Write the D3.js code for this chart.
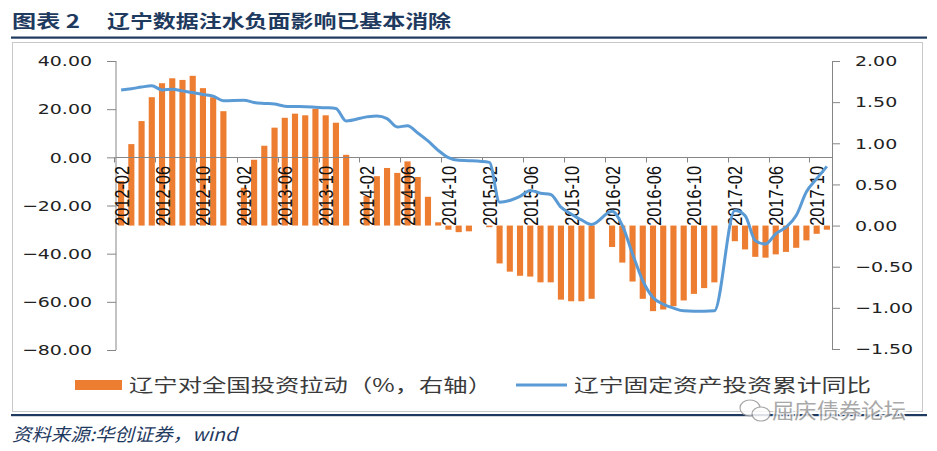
<!DOCTYPE html>
<html><head><meta charset="utf-8">
<script src="https://cdn.jsdelivr.net/npm/d3@7"></script>
<style>
html,body{margin:0;padding:0;background:#fff;}
svg{display:block;}
</style></head>
<body>
<svg id="chart" width="937" height="451"></svg>
<script>
// ---------------- data ----------------
const months = [
 "2012-02","2012-03","2012-04","2012-05","2012-06","2012-07","2012-08","2012-09","2012-10","2012-11","2012-12",
 "2013-01","2013-02","2013-03","2013-04","2013-05","2013-06","2013-07","2013-08","2013-09","2013-10","2013-11","2013-12",
 "2014-01","2014-02","2014-03","2014-04","2014-05","2014-06","2014-07","2014-08","2014-09","2014-10","2014-11","2014-12",
 "2015-01","2015-02","2015-03","2015-04","2015-05","2015-06","2015-07","2015-08","2015-09","2015-10","2015-11","2015-12",
 "2016-01","2016-02","2016-03","2016-04","2016-05","2016-06","2016-07","2016-08","2016-09","2016-10","2016-11","2016-12",
 "2017-01","2017-02","2017-03","2017-04","2017-05","2017-06","2017-07","2017-08","2017-09","2017-10","2017-11"
];
// 辽宁对全国投资拉动（%，右轴）
const pullValues = [
 0.54,0.99,1.27,1.56,1.73,1.79,1.77,1.82,1.67,1.56,1.39,
 null,0.46,0.80,0.97,1.19,1.31,1.36,1.34,1.42,1.34,1.25,0.86,
 null,0.36,0.60,0.70,0.64,0.78,0.59,0.35,0.04,-0.05,-0.08,-0.07,
 null,-0.02,-0.46,-0.56,-0.61,-0.62,-0.69,-0.69,-0.90,-0.92,-0.92,-0.89,
 null,-0.26,-0.45,-0.68,-0.89,-1.04,-1.02,-0.98,-0.91,-0.83,-0.76,-0.69,
 null,-0.19,-0.29,-0.38,-0.39,-0.35,-0.32,-0.27,-0.18,-0.10,-0.05
];
// 辽宁固定资产投资累计同比
const growthValues = [
 28.0,28.5,29.2,29.7,28.0,28.3,27.6,26.9,26.1,25.4,23.5,
 null,23.75,22.8,22.4,22.1,21.25,21.1,21.0,20.8,20.6,20.3,15.1,
 null,16.8,17.2,16.1,12.6,13.1,10.1,6.8,2.9,-0.1,-1.25,-1.4,
 null,-2.1,-18.6,-17.9,-16.25,-13.75,-14.9,-15.4,-20.7,-23.5,-26.0,-27.9,
 null,-22.4,-28.3,-40.1,-51.25,-58.2,-61.0,-62.6,-63.75,-63.9,-63.9,-63.75,
 null,-22.1,-24.2,-34.6,-36.0,-31.8,-29.0,-24.2,-14.3,-8.9,-3.75
];
const leftTicks = [-80,-60,-40,-20,0,20,40];
const rightTicks = [-1.5,-1.0,-0.5,0,0.5,1.0,1.5,2.0];
const xTickLabels = ["2012-02","2012-06","2012-10","2013-02","2013-06","2013-10","2014-02","2014-06","2014-10",
 "2015-02","2015-06","2015-10","2016-02","2016-06","2016-10","2017-02","2017-06","2017-10"];
const seriesNames = ["辽宁对全国投资拉动（%，右轴）","辽宁固定资产投资累计同比"];
const titleText = "辽宁数据注水负面影响已基本消除";
const sourceText = "资料来源:华创证券，wind";

// ---------------- drawing ----------------
const svg = d3.select("#chart");
const NAVY = "#1F3A5F", ORANGE = "#ED7D31", BLUE = "#5B9BD5", AXIS = "#868686";
const STRETCH = 1.29;
function stretch(sel, target) {
  sel.each(function(){
    const w = this.getComputedTextLength();
    d3.select(this).attr("textLength", target != null ? target : w*STRETCH).attr("lengthAdjust","spacingAndGlyphs");
  });
}

// title
svg.append("text").attr("x",12).attr("y",27.5).text("图表 2")
  .attr("font-family","'Noto Sans CJK SC'").attr("font-weight","bold").attr("font-size",18).attr("fill",NAVY)
  .call(stretch, 68);
svg.append("text").attr("x",107).attr("y",27.5).text(titleText)
  .attr("font-family","'Noto Sans CJK SC'").attr("font-weight","bold").attr("font-size",18).attr("fill",NAVY)
  .call(stretch, 344);
svg.append("rect").attr("x",11).attr("y",36.5).attr("width",916).attr("height",2.2).attr("fill",NAVY);

// chart box
svg.append("rect").attr("x",12.5).attr("y",42.5).attr("width",910).attr("height",369)
  .attr("fill","none").attr("stroke","#c8c8c8").attr("stroke-width",1);

// scales
const x = d3.scaleBand().domain(months).range([116,832]).paddingInner(0.4).paddingOuter(0.2);
const step = x.step();
const yL = d3.scaleLinear().domain([-80,40]).range([350,61]);
const yR = d3.scaleLinear().domain([-1.5,2]).range([349,61]);

// bars (right axis)
svg.append("g").selectAll("rect").data(months.map((m,i)=>({m,v:pullValues[i]})).filter(d=>d.v!=null))
  .join("rect")
  .attr("x",d=>x(d.m)).attr("width",x.bandwidth())
  .attr("y",d=>Math.min(yR(d.v),yR(0))).attr("height",d=>Math.abs(yR(d.v)-yR(0)))
  .attr("fill",ORANGE);

// left axis
const gL = svg.append("g").attr("transform","translate(116,0)")
  .call(d3.axisLeft(yL).tickValues(leftTicks).tickSize(9).tickPadding(15).tickFormat(d3.format(".2f")));
gL.select(".domain").attr("stroke",AXIS).attr("d","M-0.5,"+yL(40)+"V"+yL(-80)).attr("transform","translate(0.5,0)");
gL.selectAll(".tick line").attr("stroke",AXIS);
gL.selectAll(".tick text").attr("font-family","'DejaVu Sans'").attr("font-size",14.7).attr("fill","#222")
  .attr("x",-24).call(stretch);

// right axis
const gR = svg.append("g").attr("transform","translate(832,0)")
  .call(d3.axisRight(yR).tickValues(rightTicks).tickSize(8).tickFormat(d3.format(".2f")));
gR.select(".domain").attr("stroke",AXIS).attr("d","M0.5,"+yR(2)+"V"+yR(-1.5));
gR.selectAll(".tick line").attr("stroke",AXIS);
gR.selectAll(".tick text").attr("font-family","'DejaVu Sans'").attr("font-size",14.7).attr("fill","#222")
  .attr("x",23).call(stretch);

// category axis at left-axis zero
const y0 = Math.round(yL(0))+0.5;
svg.append("line").attr("x1",116).attr("x2",832).attr("y1",y0).attr("y2",y0).attr("stroke",AXIS);
const tickIdx = months.map((m,i)=>i).filter(i=>i%4===0);
svg.append("g").selectAll("line").data(tickIdx).join("line")
  .attr("x1",i=>Math.round(x(months[i])-step*0.4)+0.5).attr("x2",i=>Math.round(x(months[i])-step*0.4)+0.5)
  .attr("y1",y0).attr("y2",y0+5).attr("stroke",AXIS);
svg.append("g").selectAll("text").data(xTickLabels).join("text")
  .attr("transform",d=>`translate(${x(d)+x.bandwidth()/2},166) scale(1.28,1) rotate(-90)`)
  .attr("text-anchor","end").attr("dy","0.36em")
  .attr("font-family","'Liberation Sans'").attr("font-size",16.3).attr("fill","#111")
  .text(d=>d);

// line (left axis)
const pts = months.map((m,i)=>({m,v:growthValues[i]})).filter(d=>d.v!=null);
svg.append("path").datum(pts)
  .attr("d",d3.line().x(d=>x(d.m)+x.bandwidth()/2).y(d=>yL(d.v)).curve(d3.curveMonotoneX))
  .attr("fill","none").attr("stroke",BLUE).attr("stroke-width",3).attr("stroke-linejoin","round");

// legend
svg.append("rect").attr("x",75).attr("y",380).attr("width",47).attr("height",10).attr("fill",ORANGE);
svg.append("text").attr("x",129).attr("y",392).text(seriesNames[0])
  .attr("font-family","'Noto Sans CJK SC'").attr("font-size",18.5).attr("fill","#3a3a3a").call(stretch, 363);
svg.append("line").attr("x1",516).attr("x2",567).attr("y1",385).attr("y2",385).attr("stroke",BLUE).attr("stroke-width",3);
svg.append("text").attr("x",574).attr("y",392).text(seriesNames[1])
  .attr("font-family","'Noto Sans CJK SC'").attr("font-size",18.5).attr("fill","#3a3a3a").call(stretch, 297);

// bottom rule and source
svg.append("rect").attr("x",11).attr("y",414).attr("width",916).attr("height",2.2).attr("fill",NAVY);
svg.append("text").attr("x",12).attr("y",441).text(sourceText)
  .attr("font-family","'Noto Sans CJK SC'").attr("font-style","italic").attr("font-size",18).attr("fill",NAVY)
  .call(stretch, 225);

// watermark
const wm = svg.append("g").attr("opacity",0.85);
wm.append("ellipse").attr("cx",750).attr("cy",408).attr("rx",10).attr("ry",8).attr("fill","#fff").attr("stroke","#999").attr("stroke-width",1.2);
wm.append("ellipse").attr("cx",761).attr("cy",414).attr("rx",9).attr("ry",7).attr("fill","#fff").attr("stroke","#999").attr("stroke-width",1.2);
wm.append("text").attr("x",772).attr("y",418).text("屈庆债券论坛")
  .attr("font-family","'Noto Sans CJK SC'").attr("font-size",21).attr("fill","#9a9a9a")
  .attr("stroke","#fff").attr("stroke-width",3).attr("paint-order","stroke").call(stretch, 134);
</script>
</body></html>
